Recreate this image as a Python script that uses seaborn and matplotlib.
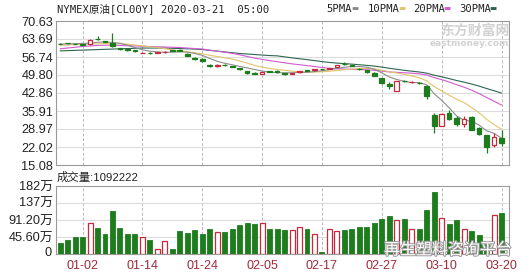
import matplotlib
matplotlib.use("Agg")
import matplotlib.pyplot as plt
import matplotlib.patheffects as pe
import seaborn as sns
import pandas as pd
import numpy as np

# ---------------- data ----------------
dates = ["12-27", "12-30", "12-31",
         "01-02", "01-03", "01-06", "01-07", "01-08", "01-09", "01-10", "01-13", "01-14", "01-15",
         "01-16", "01-17", "01-20", "01-21", "01-22", "01-23", "01-24", "01-27", "01-28", "01-29",
         "01-30", "01-31",
         "02-03", "02-04", "02-05", "02-06", "02-07", "02-10", "02-11", "02-12", "02-13", "02-14",
         "02-17", "02-18", "02-19", "02-20", "02-21", "02-24", "02-25", "02-26", "02-27", "02-28",
         "03-02", "03-03", "03-04", "03-05", "03-06", "03-09", "03-10", "03-11", "03-12", "03-13",
         "03-16", "03-17", "03-18", "03-19", "03-20"]

opens = [61.9, 62.1, 61.9, 61.6, 61.6, 63.8, 62.9, 62.0, 60.1, 59.7,
         59.3, 58.3, 58.3, 58.3, 58.6, 59.4, 59.5, 58.0, 56.3, 56.0,
         53.6, 53.2, 53.8, 53.2, 52.4, 51.3, 50.5, 50.2, 51.3, 51.4,
         50.4, 50.2, 50.9, 51.6, 51.6, 52.2, 52.2, 53.0, 54.1, 53.6,
         52.3, 51.6, 50.5, 48.6, 46.4, 43.8, 47.6, 47.0, 46.9, 45.6,
         34.3, 30.3, 35.3, 33.2, 31.0, 33.6, 29.2, 26.6, 22.8, 25.5]
closes = [61.8, 62.0, 61.8, 61.4, 63.3, 63.6, 62.7, 60.8, 59.9, 59.5,
          59.0, 58.4, 58.1, 58.5, 58.8, 59.2, 59.2, 57.3, 56.0, 55.2,
          53.3, 53.6, 53.6, 53.0, 52.1, 50.5, 50.3, 50.8, 51.1, 50.9,
          50.2, 50.4, 51.3, 51.5, 52.1, 52.1, 52.4, 53.5, 54.0, 53.4,
          52.1, 51.0, 49.6, 46.7, 45.7, 47.3, 47.4, 47.2, 46.6, 41.6,
          30.0, 34.7, 33.0, 30.8, 33.0, 28.6, 27.0, 22.1, 25.7, 23.7]
highs = [62.1, 62.3, 62.1, 61.8, 63.6, 64.8, 63.1, 65.9, 60.3, 59.9,
         59.5, 58.7, 58.5, 58.7, 59.0, 59.6, 59.7, 58.2, 56.6, 56.2,
         53.9, 53.9, 54.0, 53.4, 52.6, 51.5, 50.8, 51.0, 51.5, 51.6,
         50.6, 50.7, 51.5, 51.8, 52.3, 52.3, 52.6, 53.7, 54.7, 53.8,
         52.5, 51.8, 50.8, 48.8, 47.0, 47.6, 47.9, 47.5, 47.1, 45.8,
         35.1, 35.0, 36.3, 33.8, 34.0, 33.8, 29.8, 26.8, 27.4, 28.6]
lows = [61.6, 61.8, 61.6, 61.2, 61.4, 63.3, 62.5, 60.5, 59.6, 59.2,
        58.8, 58.1, 57.9, 58.1, 58.4, 59.0, 58.9, 57.0, 55.7, 54.9,
        53.0, 53.0, 53.4, 52.7, 51.8, 50.2, 50.0, 50.0, 50.8, 50.6,
        49.9, 50.0, 50.7, 51.2, 51.4, 51.9, 52.0, 52.8, 53.8, 53.1,
        51.8, 50.7, 49.3, 46.3, 44.3, 43.6, 47.0, 46.8, 46.3, 40.6,
        27.4, 30.0, 32.4, 30.3, 29.8, 28.4, 26.5, 19.8, 22.0, 22.5]

ma5 = [61.7, 61.8, 61.9, 62.0, 62.06, 62.42, 62.56, 62.36, 62.06, 61.30,
       60.38, 59.52, 58.98, 58.70, 58.56, 58.60, 58.76, 58.60, 58.10, 57.38,
       56.20, 55.08, 54.34, 53.74, 53.12, 52.56, 51.90, 51.32, 50.94, 50.70,
       50.64, 50.66, 50.78, 50.86, 51.10, 51.48, 51.88, 52.30, 52.80, 53.06,
       53.06, 52.80, 52.04, 50.58, 49.04, 48.08, 47.34, 46.86, 46.84, 46.02,
       42.56, 40.02, 37.18, 34.02, 32.30, 32.02, 30.48, 28.30, 27.28, 25.42]
ma10 = [61.3, 61.4, 61.5, 61.6, 61.7, 61.8, 61.9, 61.9, 61.8, 61.68,
        61.40, 61.04, 60.67, 60.38, 59.93, 59.49, 59.14, 58.79, 58.40, 57.97,
        57.40, 56.92, 56.47, 55.92, 55.25, 54.38, 53.49, 52.83, 52.34, 51.91,
        51.60, 51.28, 51.05, 50.90, 50.90, 51.06, 51.27, 51.54, 51.83, 52.08,
        52.27, 52.34, 52.17, 51.69, 51.05, 50.57, 50.07, 49.45, 48.71, 47.53,
        45.32, 43.68, 42.02, 40.43, 39.16, 37.29, 35.25, 32.74, 30.65, 28.86]
ma20 = [59.9, 60.2, 60.5, 60.8, 61.0, 61.2, 61.3, 61.3, 61.2, 61.1,
        61.0, 60.9, 60.8, 60.7, 60.6, 60.5, 60.4, 60.2, 60.0, 59.83,
        59.40, 58.98, 58.57, 58.15, 57.59, 56.94, 56.32, 55.81, 55.37, 54.94,
        54.50, 54.10, 53.76, 53.41, 53.08, 52.72, 52.38, 52.19, 52.09, 52.00,
        51.94, 51.81, 51.61, 51.30, 50.98, 50.82, 50.67, 50.50, 50.27, 49.81,
        48.80, 48.01, 47.10, 46.06, 45.10, 43.93, 42.66, 41.10, 39.68, 38.20]
ma30 = [59.1, 59.2, 59.3, 59.4, 59.5, 59.6, 59.7, 59.8, 59.9, 60.0,
        60.1, 60.2, 60.2, 60.2, 60.2, 60.1, 60.0, 59.9, 59.8, 59.6,
        59.3, 59.0, 58.7, 58.4, 58.1, 57.9, 57.7, 57.5, 57.3, 57.19,
        56.80, 56.41, 56.06, 55.73, 55.36, 54.98, 54.63, 54.39, 54.19, 53.99,
        53.76, 53.51, 53.23, 52.84, 52.40, 52.00, 51.61, 51.27, 50.96, 50.51,
        49.73, 49.10, 48.41, 47.67, 47.04, 46.31, 45.53, 44.58, 43.73, 42.82]

volume_wan = [30.6, 37.6, 45.5, 45.5, 82.0, 69.0, 53.0, 114.0, 69.0, 53.0,
              53.0, 45.5, 37.6, 13.0, 35.0, 14.0, 61.0, 57.0, 64.0, 53.0,
              66.5, 58.6, 58.6, 66.5, 77.0, 83.0, 80.5, 82.0, 68.0, 68.0,
              64.0, 64.0, 71.0, 66.0, 52.5, 4.4, 68.0, 61.0, 64.0, 66.5,
              71.0, 71.0, 84.0, 94.5, 103.0, 90.0, 94.5, 68.0, 66.0, 119.0,
              166.0, 97.0, 80.0, 92.0, 67.0, 62.0, 50.0, 27.0, 105.0, 109.2]

price_ticks = [15.08, 22.02, 28.97, 35.91, 42.86, 49.80, 56.74, 63.69, 70.63]
vol_ticks = [0, 45.60, 91.20, 137, 182]
vol_tick_labels = ["0", "45.60万", "91.20万", "137万", "182万"]
date_tick_labels = ["01-02", "01-14", "01-24", "02-05", "02-17", "02-27", "03-10", "03-20"]

title_text = "NYMEX原油[CL00Y] 2020-03-21  05:00"
volume_title = "成交量:1092222"
ma_names = ["5PMA", "10PMA", "20PMA", "30PMA"]

# ---------------- style ----------------
sns.set_theme(style="white")
plt.rcParams["font.family"] = ["Liberation Sans", "Noto Sans CJK SC", "DejaVu Sans"]

GREEN = "#1d7d1d"
RED = "#c8283c"
MA_COLORS = ["#8c8c8c", "#e2c46a", "#d45ad4", "#2d6650"]
FRAME = "#9a9a9a"
GRID = "#dcdcdc"
VGRID = "#b8b8b8"
DATE_COLOR = "#a02a3a"

df = pd.DataFrame({
    "date": dates, "open": opens, "close": closes, "high": highs, "low": lows,
    "ma5": ma5, "ma10": ma10, "ma20": ma20, "ma30": ma30, "vol": volume_wan,
})
df["i"] = np.arange(len(df))
df["up"] = df["close"] > df["open"]

fig = plt.figure(figsize=(5.32, 2.76), dpi=100)
ax1 = fig.add_axes([56 / 532, 1 - 165 / 276, 453 / 532, 144 / 276])
ax2 = fig.add_axes([56 / 532, 1 - 254 / 276, 453 / 532, 68 / 276])

tick_pos = [dates.index(d) for d in date_tick_labels]
xlim = (-0.55, len(dates) - 0.0)

for ax in (ax1, ax2):
    ax.set_facecolor("white")
    for s in ax.spines.values():
        s.set_color(FRAME)
        s.set_linewidth(0.8)
    ax.set_xlim(*xlim)
    ax.tick_params(length=0, pad=2)
    for p in tick_pos:
        ax.axvline(p, color=VGRID, lw=0.7, ls=(0, (3, 2)), zorder=0)

# ---- price panel ----
ax1.set_ylim(price_ticks[0], price_ticks[-1])
ax1.set_yticks(price_ticks)
ax1.set_yticklabels([f"{v:.2f}" for v in price_ticks], fontsize=9.2, color="#222222")
for v in price_ticks[1:-1]:
    ax1.axhline(v, color=GRID, lw=0.8, zorder=0)
ax1.set_xticks([])

# MA lines via seaborn
for col, c in zip(["ma30", "ma20", "ma10", "ma5"], MA_COLORS[::-1]):
    sns.lineplot(data=df, x="i", y=col, ax=ax1, color=c, lw=0.8, zorder=2)

# candles
body_w = 0.62
for up, color_face, color_edge in [(True, "white", RED), (False, GREEN, GREEN)]:
    sub = df[df["up"] == up]
    ax1.vlines(sub["i"], sub["low"], sub["high"], color=color_edge, lw=0.9, zorder=3)
    bottoms = np.minimum(sub["open"], sub["close"])
    heights = np.maximum(np.abs(sub["close"] - sub["open"]), 0.12)
    ax1.bar(sub["i"], heights, bottom=bottoms, width=body_w, color=color_face,
            edgecolor=color_edge, linewidth=0.9, zorder=4)
ax1.set_xlabel("")
ax1.set_ylabel("")

# ---- volume panel ----
vol_down = df[~df["up"]]
vol_up = df[df["up"]]
sns.barplot(data=vol_down, x="i", y="vol", ax=ax2, native_scale=True, width=0.66,
            color=GREEN, saturation=1, edgecolor=GREEN, linewidth=0.6, zorder=3)
sns.barplot(data=vol_up, x="i", y="vol", ax=ax2, native_scale=True, width=0.66,
            color="white", saturation=1, edgecolor=RED, linewidth=0.9, zorder=3)
ax2.set_xlim(*xlim)
ax2.set_ylim(0, vol_ticks[-1])
ax2.set_yticks(vol_ticks)
# the bottom label is drawn explicitly so it is never dropped at the axis edge
ax2.set_yticklabels([""] + vol_tick_labels[1:], fontsize=9.2, color="#222222")
ax2.annotate(vol_tick_labels[0], xy=(0, vol_ticks[0]), xycoords=("axes fraction", "data"),
             xytext=(-3, 1), textcoords="offset points", ha="right", va="center",
             fontsize=9.2, color="#222222", annotation_clip=False)
for v in vol_ticks[1:-1]:
    ax2.axhline(v, color=GRID, lw=0.8, zorder=0)
ax2.set_xticks(tick_pos)
ax2.set_xticklabels(date_tick_labels, fontsize=9, color=DATE_COLOR)
ax2.tick_params(axis="x", pad=4)
ax2.set_xlabel("")
ax2.set_ylabel("")

# ---- texts ----
fig.text(57 / 532, 1 - 9 / 276, title_text, fontsize=7.6, va="center", ha="left",
         color="#222222", family=["DejaVu Sans Mono", "Noto Sans CJK SC"])
fig.text(57 / 532, 1 - 177 / 276, volume_title, fontsize=8.2, va="center", ha="left",
         color="#222222", family=["Liberation Sans", "Noto Sans CJK SC"])

# legend (text + small colored dash)
leg_x = [326, 368, 413, 459]
for name, c, x in zip(ma_names, MA_COLORS, leg_x):
    fig.text(x / 532, 1 - 9 / 276, name, fontsize=7.6, va="center", ha="left",
             color="#222222", family=["DejaVu Sans Mono", "Noto Sans CJK SC"])
    fig.text((x + len(name) * 5.55 + 3) / 532, 1 - 9 / 276, "▬", fontsize=5.5,
             va="center", ha="left", color=c, family=["DejaVu Sans"])

# eastmoney watermark
fig.text(510 / 532, 1 - 31 / 276, "东方财富网", fontsize=10, va="center", ha="right",
         color="#d2d2d2", fontweight="bold", family=["Noto Sans CJK SC"])
fig.text(509 / 532, 1 - 43 / 276, "eastmoney.com", fontsize=6.5, va="center", ha="right",
         color="#d2d2d2", fontweight="bold", family=["DejaVu Sans"])

# wechat watermark
wm = fig.text(512 / 532, 1 - 250 / 276, "再生塑料咨询平台", fontsize=11.5, va="center", ha="right",
              color="white", family=["Noto Sans CJK SC"])
wm.set_path_effects([pe.withStroke(linewidth=1.4, foreground="#9a9a9a")])

fig.savefig("out.png", dpi=100, facecolor="white")
